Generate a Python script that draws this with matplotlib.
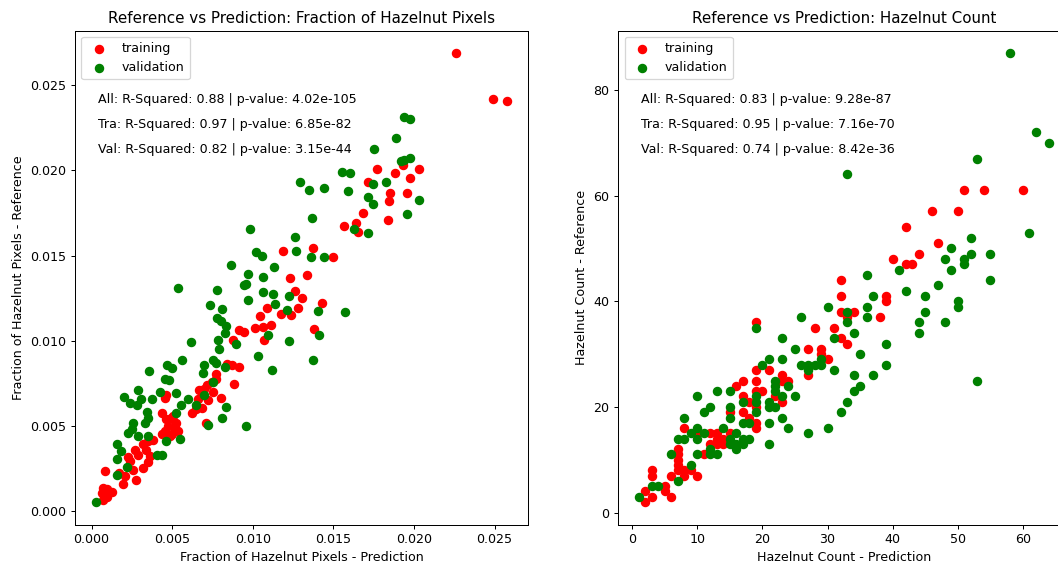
import numpy as np
import matplotlib
matplotlib.use("Agg")
import matplotlib.pyplot as plt

# fraction of hazelnut pixels: (prediction, reference)
pix_train = np.array([
    (0.02263, 0.02690), (0.02489, 0.02422), (0.02580, 0.02405),
    (0.01774, 0.02007), (0.01716, 0.01934), (0.01880, 0.01983), (0.01931, 0.02032),
    (0.02029, 0.02009), (0.01977, 0.01954), (0.01853, 0.01870), (0.01960, 0.01866),
    (0.01845, 0.01823), (0.01687, 0.01753), (0.01837, 0.01710), (0.01567, 0.01676),
    (0.01642, 0.01690), (0.01656, 0.01637),
    (0.01186, 0.01526), (0.01375, 0.01542), (0.01495, 0.01489), (0.01232, 0.01368),
    (0.01339, 0.01388), (0.01265, 0.01292), (0.01306, 0.01251), (0.01427, 0.01222),
    (0.01089, 0.01192), (0.01283, 0.01192), (0.01046, 0.01147), (0.01176, 0.01157),
    (0.01238, 0.01153), (0.01115, 0.01092), (0.01014, 0.01073), (0.01062, 0.01081),
    (0.00917, 0.01065), (0.00946, 0.01053), (0.01381, 0.01069), (0.01072, 0.01003),
    (0.00876, 0.01003),
    (0.00840, 0.00861), (0.00870, 0.00856), (0.00915, 0.00845), (0.00882, 0.00749),
    (0.00770, 0.00804), (0.00775, 0.00775), (0.00745, 0.00760), (0.00714, 0.00740),
    (0.00697, 0.00719), (0.00665, 0.00709), (0.00689, 0.00681), (0.00658, 0.00656),
    (0.00725, 0.00651), (0.00756, 0.00698), (0.00800, 0.00666), (0.00622, 0.00575),
    (0.00683, 0.00603), (0.00710, 0.00516), (0.00645, 0.00600),
    (0.00456, 0.00662), (0.00462, 0.00680), (0.00435, 0.00577), (0.00462, 0.00539),
    (0.00495, 0.00545), (0.00507, 0.00560), (0.00525, 0.00518), (0.00475, 0.00497),
    (0.00517, 0.00489), (0.00538, 0.00469), (0.00455, 0.00469), (0.00486, 0.00440),
    (0.00500, 0.00455), (0.00440, 0.00450), (0.00383, 0.00420),
    (0.00353, 0.00412), (0.00321, 0.00395), (0.00336, 0.00360), (0.00363, 0.00321),
    (0.00353, 0.00286), (0.00321, 0.00254), (0.00269, 0.00360), (0.00290, 0.00332),
    (0.00227, 0.00317), (0.00240, 0.00292), (0.00259, 0.00244), (0.00210, 0.00207),
    (0.00195, 0.00159), (0.00170, 0.00222), (0.00275, 0.00184), (0.00086, 0.00233),
    (0.00069, 0.00137), (0.00097, 0.00127), (0.00126, 0.00110), (0.00069, 0.00063),
    (0.00080, 0.00095), (0.00062, 0.00108), (0.00093, 0.00080),
])

pix_val = np.array([
    (0.01939, 0.02314), (0.01975, 0.02300), (0.01888, 0.02189), (0.01753, 0.02126),
    (0.01940, 0.02062), (0.01977, 0.02075), (0.01920, 0.02055), (0.01749, 0.01919),
    (0.01826, 0.01934), (0.01553, 0.01993), (0.01605, 0.01983), (0.01294, 0.01931),
    (0.01352, 0.01886), (0.01443, 0.01896), (0.01592, 0.01880), (0.01718, 0.01847),
    (0.01745, 0.01802), (0.02029, 0.01824), (0.01960, 0.01745), (0.01369, 0.01720),
    (0.01631, 0.01655), (0.01712, 0.01632), (0.00981, 0.01655), (0.01261, 0.01612),
    (0.01271, 0.01525), (0.01364, 0.01489), (0.01443, 0.01489), (0.01023, 0.01523),
    (0.01056, 0.01499), (0.00867, 0.01446), (0.01130, 0.01431), (0.00971, 0.01392),
    (0.01062, 0.01376), (0.00944, 0.01327), (0.00961, 0.01335), (0.00778, 0.01296),
    (0.01066, 0.01284), (0.01126, 0.01275), (0.00971, 0.01238), (0.01223, 0.01265),
    (0.01136, 0.01218), (0.00737, 0.01208), (0.00809, 0.01189), (0.01211, 0.01183),
    (0.01404, 0.01177), (0.01573, 0.01167), (0.00776, 0.01134), (0.00801, 0.01114),
    (0.00834, 0.01089), (0.00828, 0.01046), (0.00786, 0.01007), (0.00793, 0.00953),
    (0.01095, 0.01032), (0.00896, 0.00982), (0.01408, 0.01032), (0.01226, 0.01001),
    (0.01033, 0.00910), (0.01375, 0.00887), (0.01120, 0.00829), (0.00756, 0.00889),
    (0.00699, 0.00860), (0.00770, 0.00870), (0.00828, 0.00845), (0.00689, 0.00811),
    (0.00751, 0.00758), (0.00697, 0.00679), (0.00834, 0.00610), (0.00811, 0.00547),
    (0.00720, 0.00505), (0.00961, 0.00500),
    (0.00536, 0.01311), (0.00615, 0.00991), (0.00563, 0.00889), (0.00470, 0.00855),
    (0.00500, 0.00840), (0.00455, 0.00776), (0.00482, 0.00768), (0.00522, 0.00694),
    (0.00424, 0.00697), (0.00596, 0.00658), (0.00648, 0.00620), (0.00555, 0.00620),
    (0.00525, 0.00577), (0.00356, 0.00821), (0.00286, 0.00709), (0.00203, 0.00670),
    (0.00238, 0.00635), (0.00280, 0.00620), (0.00306, 0.00658), (0.00372, 0.00658),
    (0.00341, 0.00581), (0.00352, 0.00547), (0.00331, 0.00518), (0.00259, 0.00518),
    (0.00248, 0.00479), (0.00228, 0.00459), (0.00290, 0.00440), (0.00348, 0.00440),
    (0.00548, 0.00424), (0.00459, 0.00410), (0.00155, 0.00391), (0.00182, 0.00352),
    (0.00155, 0.00307), (0.00404, 0.00332), (0.00439, 0.00332), (0.00217, 0.00258),
    (0.00155, 0.00212), (0.00025, 0.00053),
])

# hazelnut count: (prediction, reference)
cnt_train = np.array([
    (60, 61), (51, 61), (54, 61), (46, 57), (50, 57), (42, 54), (47, 51), (40, 48),
    (42, 47), (43, 47), (44, 49), (32, 44), (32, 41), (32, 38), (34, 38), (33, 37),
    (39, 41), (39, 40), (38, 37), (28, 35), (31, 35), (32, 33), (33, 32), (30, 29),
    (29, 31), (29, 30), (27, 31), (27, 26), (19, 36), (19, 27), (19, 25), (21, 27),
    (23, 26), (24, 25), (23, 25), (20, 23), (19, 23), (22, 22), (23, 21), (17, 25),
    (16, 24), (17, 22), (17, 19), (18, 21), (18, 18), (19, 20), (19, 17), (19, 16),
    (15, 19), (13, 15), (14, 14), (15, 15), (13, 14), (12, 15), (12, 13), (13, 13),
    (14, 13), (11, 11), (8, 16), (10, 15), (7, 12), (7, 11), (7, 10), (7, 9), (7, 8),
    (8, 8), (9, 8), (8, 7), (10, 7), (6, 7), (5, 5), (5, 4), (6, 3), (3, 8), (3, 7),
    (2, 4), (2, 2), (3, 3),
])

cnt_val = np.array([
    (58, 87), (62, 72), (64, 70), (53, 67), (33, 64), (61, 53), (52, 52), (49, 50),
    (48, 48), (51, 48), (51, 47), (52, 49), (55, 49), (49, 46), (41, 46), (55, 44),
    (36, 45), (47, 43), (42, 42), (37, 41), (45, 41), (50, 40), (50, 39), (30, 39),
    (36, 39), (33, 38), (45, 38), (26, 37), (36, 37), (44, 36), (48, 36), (33, 36),
    (19, 35), (44, 34), (34, 34), (31, 33), (23, 33), (39, 32), (25, 31), (35, 30),
    (21, 29), (23, 29), (29, 29), (20, 28), (26, 28), (28, 28), (29, 28), (27, 28),
    (27, 27), (31, 27), (39, 28), (34, 26), (37, 26), (22, 25), (22, 24), (24, 24),
    (22, 23), (34, 23), (35, 24), (53, 25), (25, 22), (23, 22), (19, 22), (19, 21),
    (13, 23), (15, 23), (10, 22), (21, 21), (21, 20), (22, 20), (17, 21), (12, 20),
    (15, 20), (15, 18), (11, 19), (19, 19), (33, 21), (32, 19), (23, 18), (8, 18),
    (17, 17), (18, 17), (21, 17), (14, 16), (24, 16), (30, 16), (27, 15), (10, 16),
    (10, 14), (9, 15), (11, 15), (7, 14), (8, 14), (16, 15), (17, 14), (16, 13),
    (18, 14), (15, 14), (15, 13), (17, 13), (16, 12), (21, 13), (12, 12), (12, 11),
    (10, 11), (13, 11), (6, 11), (9, 9), (7, 6), (3, 5), (4, 5), (1, 3),
])

pix_stats = ["All: R-Squared: 0.88 | p-value: 4.02e-105",
             "Tra: R-Squared: 0.97 | p-value: 6.85e-82",
             "Val: R-Squared: 0.82 | p-value: 3.15e-44"]
cnt_stats = ["All: R-Squared: 0.83 | p-value: 9.28e-87",
             "Tra: R-Squared: 0.95 | p-value: 7.16e-70",
             "Val: R-Squared: 0.74 | p-value: 8.42e-36"]

dpi = 91
fig = plt.figure(figsize=(1058 / dpi, 565 / dpi), dpi=dpi)
ax1 = fig.add_axes([75 / 1058, 40.5 / 565, 453 / 1058, 494 / 565])
ax2 = fig.add_axes([618.3 / 1058, 40.5 / 565, 451 / 1058, 494 / 565])


def panel(ax, train, val, stats, title, name):
    ax.scatter(train[:, 0], train[:, 1], s=42, c='red', label='training')
    ax.scatter(val[:, 0], val[:, 1], s=42, c='green', label='validation')
    ax.set_title('Reference vs Prediction: ' + title)
    ax.set_xlabel(name + ' - Prediction')
    ax.set_ylabel(name + ' - Reference')
    ax.legend(loc='upper left')
    for i, s in enumerate(stats):
        ax.text(0.05, 0.86 - 0.05 * i, s, transform=ax.transAxes, va='center')


panel(ax1, pix_train, pix_val, pix_stats,
      'Fraction of Hazelnut Pixels', 'Fraction of Hazelnut Pixels')
panel(ax2, cnt_train, cnt_val, cnt_stats, 'Hazelnut Count', 'Hazelnut Count')

fig.savefig('out.png', dpi=dpi)
